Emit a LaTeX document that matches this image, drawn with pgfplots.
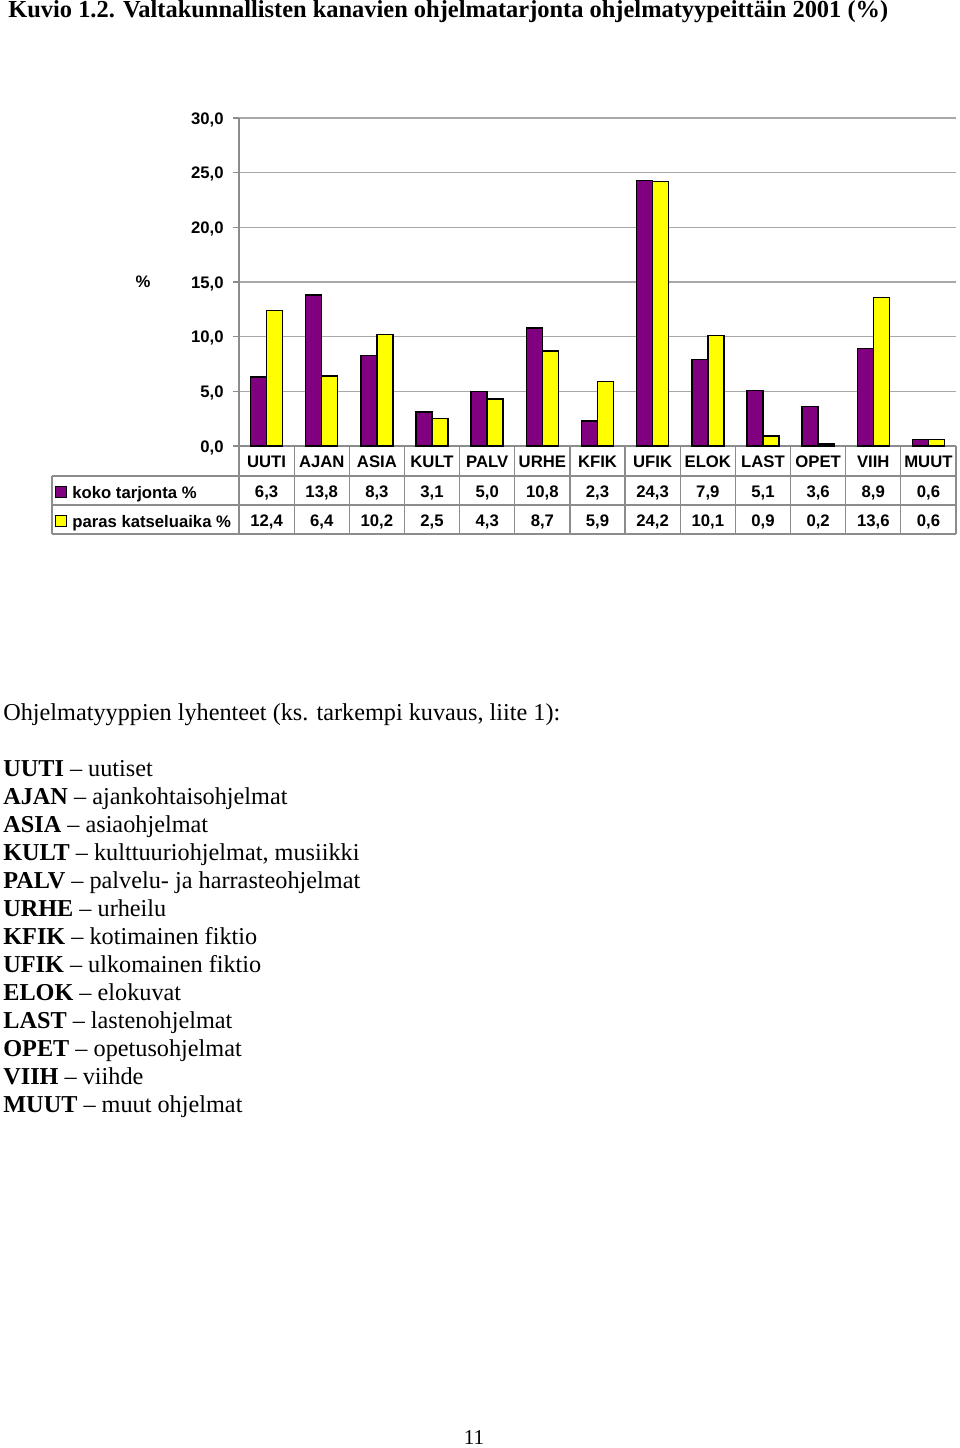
\documentclass[border=0pt]{standalone}
\usepackage{fontspec}
\setmainfont{Liberation Serif}
\setsansfont{Liberation Sans}
\usepackage{pgfplots}
\pgfplotsset{compat=1.18}
\usepackage{pgfplotstable}
\definecolor{koko}{HTML}{800080}
\definecolor{paras}{HTML}{FFFF00}
\definecolor{gridgray}{HTML}{A8A8A8}
\definecolor{linegray}{HTML}{8C8C8C}

% koko tarjonta % / paras katseluaika %, ohjelmatyypeittain
\pgfplotstableread{
i  koko  paras
1  6.3   12.4
2  13.8  6.4
3  8.3   10.2
4  3.1   2.5
5  5.0   4.3
6  10.8  8.7
7  2.3   5.9
8  24.3  24.2
9  7.9   10.1
10 5.1   0.9
11 3.6   0.2
12 8.9   13.6
13 0.6   0.6
}\ohjelmat

\newcommand\chartfont{\sffamily\bfseries\fontsize{9.5}{11}\selectfont}
\newcommand\bodyfont{\fontsize{13.8}{16}\selectfont}

\begin{document}
\begin{tikzpicture}
% page in pixel units: 1px = 0.2mm, y downwards
\begin{scope}[x=0.2mm,y=-0.2mm]
\path (0,0) rectangle (960,1448);
\node[anchor=base west, inner sep=0pt, font=\bfseries\fontsize{13.9}{16}\selectfont]
  at (8,17.5) {Kuvio 1.2. Valtakunnallisten kanavien ohjelmatarjonta ohjelmatyypeittäin 2001 (\%)};

% data table grid
\draw[linegray, line width=0.25mm] (52,476) -- (956,476) (52,505) -- (956,505) (52,534) -- (956,534)
  (52,476) -- (52,534);
\foreach \k in {0,...,13}
  \draw[linegray, line width=0.25mm] ({239+717*\k/13},446) -- ({239+717*\k/13},534);
\draw[black, fill=koko, line width=0.2mm] (55,486) rectangle (66,497);
\draw[black, fill=paras, line width=0.2mm] (55,515) rectangle (66,526);
\node[anchor=base west, inner sep=0pt, font=\chartfont] at (72,498) {koko tarjonta \%};
\node[anchor=base west, inner sep=0pt, font=\chartfont] at (72,527) {paras katseluaika \%};

% abbreviations
\node[anchor=base west, inner sep=0pt, font=\bodyfont] at (3,720.5)
  {Ohjelmatyyppien lyhenteet (ks. tarkempi kuvaus, liite 1):};
\foreach \a/\b [count=\n from 0] in {UUTI/uutiset, AJAN/ajankohtaisohjelmat, ASIA/asiaohjelmat,
    KULT/{kulttuuriohjelmat, musiikki}, PALV/palvelu- ja harrasteohjelmat, URHE/urheilu,
    KFIK/kotimainen fiktio, UFIK/ulkomainen fiktio, ELOK/elokuvat, LAST/lastenohjelmat,
    OPET/opetusohjelmat, VIIH/viihde, MUUT/muut ohjelmat}
  \node[anchor=base west, inner sep=0pt, font=\bodyfont] at (3,{776+28*\n}) {\textbf{\a} -- \b};
\node[anchor=base, inner sep=0pt, font=\fontsize{12}{14}\selectfont] at (474,1444.5) {11};
\end{scope}

\begin{axis}[
    at={(47.8mm,-89.2mm)}, anchor=south west,
    scale only axis,
    width=143.4mm, height=65.6mm,
    xmin=0.5, xmax=13.5,
    ymin=0, ymax=30,
    clip=false,
    axis x line*=bottom, axis y line*=left,
    axis line style={linegray, line width=0.25mm},
    xtick={1,...,13},
    xticklabels={UUTI,AJAN,ASIA,KULT,PALV,URHE,KFIK,UFIK,ELOK,LAST,OPET,VIIH,MUUT},
    xtick style={draw=none},
    x tick label style={anchor=base, yshift=-3.06mm, inner sep=0pt},
    ytick={0,5,...,30},
    tick align=outside,
    major tick length=1.2mm,
    ytick style={linegray, line width=0.25mm},
    y tick label style={anchor=east, inner sep=0pt, xshift=-1.8mm, yshift=-0.3mm,
      /pgf/number format/.cd, fixed, fixed zerofill, precision=1, use comma},
    /pgf/number format/assume math mode=true,
    tick label style={font=\chartfont},
    ymajorgrids,
    grid style={gridgray, line width=0.25mm},
    ylabel={\%},
    y label style={at={(axis description cs:-0.134,0.5)}, rotate=-90, anchor=center, font=\chartfont},
    nodes near coords style={font=\chartfont, anchor=base, inner sep=0pt},
]
\addplot[ybar, bar width=3.2mm, bar shift=-1.6mm, draw=black, line width=0.3mm, fill=koko]
  table[x=i, y=koko] {\ohjelmat};
\addplot[ybar, bar width=3.2mm, bar shift=1.6mm, draw=black, line width=0.3mm, fill=paras]
  table[x=i, y=paras] {\ohjelmat};
% table values
\addplot[draw=none, mark=none, point meta=explicit,
  nodes near coords={\pgfmathprintnumber[fixed, fixed zerofill, precision=1, use comma, assume math mode=true]{\pgfplotspointmeta}}]
  table[x=i, y expr=-4.665, meta=koko] {\ohjelmat};
\addplot[draw=none, mark=none, point meta=explicit,
  nodes near coords={\pgfmathprintnumber[fixed, fixed zerofill, precision=1, use comma, assume math mode=true]{\pgfplotspointmeta}}]
  table[x=i, y expr=-7.363, meta=paras] {\ohjelmat};
\end{axis}
\end{tikzpicture}
\end{document}
